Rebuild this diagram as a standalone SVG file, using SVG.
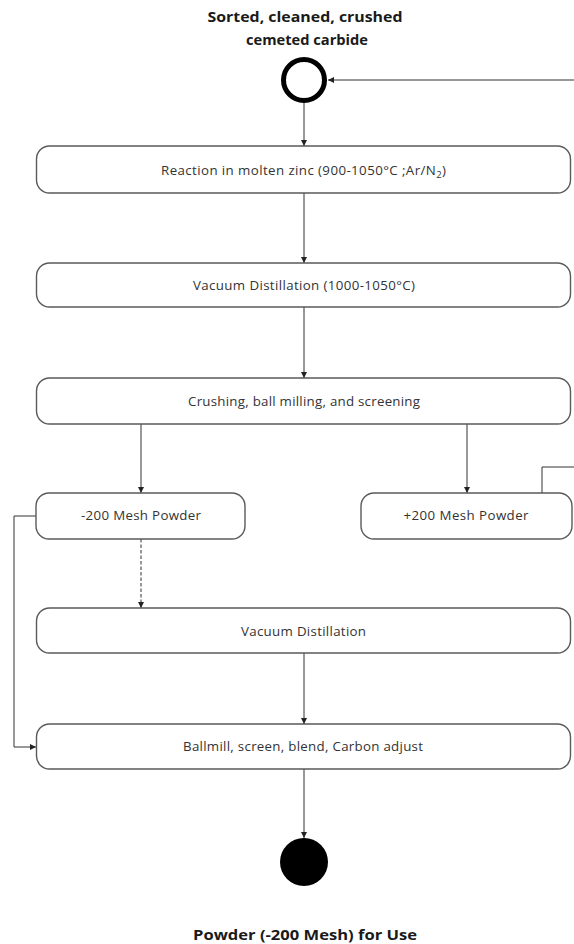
<svg xmlns="http://www.w3.org/2000/svg" width="574" height="944" viewBox="0 0 574 944">
  <style>
    .box { fill: #ffffff; stroke: #5a5a5a; stroke-width: 1.4; }
    .lbl { font-family: "Open Sans", "Liberation Sans", sans-serif; font-size: 13.3px; fill: #333333; text-anchor: middle; }
    .ttl { font-family: "Open Sans", "Liberation Sans", sans-serif; font-size: 14px; font-weight: bold; fill: #1a1a1a; text-anchor: middle; }
    .edge { fill: none; stroke: #333333; stroke-width: 1; }
    .dash { stroke-dasharray: 3.5 2; }
  </style>
  <defs>
    <marker id="arrow" markerUnits="userSpaceOnUse" markerWidth="8" markerHeight="8" refX="6" refY="3" orient="auto">
      <path d="M0,0 L6,3 L0,6 Z" fill="#222222"/>
    </marker>
  </defs>
  <rect width="574" height="944" fill="#ffffff"/>

  <!-- connectors -->
  <g id="connectors">
    <line class="edge" x1="304" y1="103" x2="304" y2="146" marker-end="url(#arrow)"/>
    <line class="edge" x1="304" y1="193" x2="304" y2="263" marker-end="url(#arrow)"/>
    <line class="edge" x1="304" y1="307" x2="304" y2="378" marker-end="url(#arrow)"/>
    <line class="edge" x1="141" y1="424" x2="141" y2="493" marker-end="url(#arrow)"/>
    <line class="edge" x1="467" y1="424" x2="467" y2="493" marker-end="url(#arrow)"/>
    <line class="edge dash" x1="141" y1="539" x2="141" y2="608" marker-end="url(#arrow)"/>
    <line class="edge" x1="304" y1="653" x2="304" y2="724" marker-end="url(#arrow)"/>
    <line class="edge" x1="304" y1="769" x2="304" y2="838" marker-end="url(#arrow)"/>
    <!-- -200 mesh bypass to final blending -->
    <polyline class="edge" points="36,516 14,516 14,747 36,747" marker-end="url(#arrow)"/>
    <!-- +200 mesh recycle back to the start -->
    <polyline class="edge" points="542,493 542,467 580,467"/>
    <line class="edge" x1="580" y1="80" x2="328" y2="80" marker-end="url(#arrow)"/>
  </g>

  <!-- start node -->
  <g id="start">
    <text class="ttl" x="305" y="22" textLength="195" lengthAdjust="spacingAndGlyphs">Sorted, cleaned, crushed</text>
    <text class="ttl" x="307" y="45" textLength="122" lengthAdjust="spacingAndGlyphs">cemeted carbide</text>
    <circle cx="304" cy="80" r="20.5" fill="#ffffff" stroke="#000000" stroke-width="5"/>
  </g>

  <g id="reaction">
    <rect class="box" x="36.5" y="146" width="534" height="47" rx="13"/>
    <text class="lbl" x="303.5" y="175" textLength="285" lengthAdjust="spacing">Reaction in molten zinc (900-1050°C ;Ar/N<tspan font-size="9.5" dy="3">2</tspan><tspan dy="-3">)</tspan></text>
  </g>

  <g id="vacuum1">
    <rect class="box" x="36.5" y="263" width="534" height="44" rx="13"/>
    <text class="lbl" x="304" y="290" textLength="222" lengthAdjust="spacing">Vacuum Distillation (1000-1050°C)</text>
  </g>

  <g id="crushing">
    <rect class="box" x="36.5" y="378" width="534" height="46" rx="13"/>
    <text class="lbl" x="304" y="406" textLength="232" lengthAdjust="spacing">Crushing, ball milling, and screening</text>
  </g>

  <g id="minus200">
    <rect class="box" x="36" y="493" width="209" height="46" rx="13"/>
    <text class="lbl" x="141" y="520" textLength="120" lengthAdjust="spacing">-200 Mesh Powder</text>
  </g>

  <g id="plus200">
    <rect class="box" x="361" y="493" width="211" height="46" rx="13"/>
    <text class="lbl" x="466" y="520" textLength="125" lengthAdjust="spacing">+200 Mesh Powder</text>
  </g>

  <g id="vacuum2">
    <rect class="box" x="36.5" y="608" width="534" height="45" rx="13"/>
    <text class="lbl" x="303.5" y="636" textLength="125" lengthAdjust="spacing">Vacuum Distillation</text>
  </g>

  <g id="ballmill">
    <rect class="box" x="36.5" y="724" width="534" height="45" rx="13"/>
    <text class="lbl" x="303" y="751" textLength="240" lengthAdjust="spacing">Ballmill, screen, blend, Carbon adjust</text>
  </g>

  <!-- end node -->
  <g id="end">
    <circle cx="304" cy="862" r="24" fill="#000000"/>
    <text class="ttl" x="305" y="940" textLength="224" lengthAdjust="spacingAndGlyphs">Powder (-200 Mesh) for Use</text>
  </g>
</svg>
